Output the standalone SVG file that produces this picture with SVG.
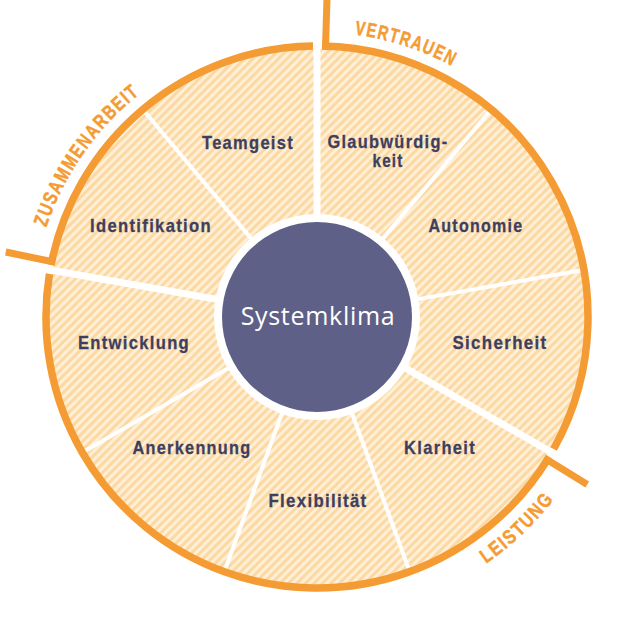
<svg xmlns="http://www.w3.org/2000/svg" width="634" height="634" viewBox="0 0 634 634">
<defs>
<pattern id="st" width="6" height="6" patternUnits="userSpaceOnUse" patternTransform="rotate(45)">
<rect width="6" height="6" fill="#fcd9a2"/>
<rect width="3" height="6" fill="#ffefd6"/>
</pattern>
<path id="pV" d="M219.52,49.19 A285,285 0 0 1 553.28,157.63"/>
<path id="pZ" d="M33.09,341.84 A285,285 0 0 1 243.24,41.71"/>
<path id="pL" d="M335.25,615.44 A299,299 0 0 0 614.08,350.85"/>
</defs>
<style>
.sec{fill:url(#st);stroke:none}
.lbl{font-family:"Liberation Sans",Arial,sans-serif;font-weight:bold;font-size:19px;letter-spacing:1.5px;fill:#3e3f5e;stroke:#3e3f5e;stroke-width:0.3px;text-anchor:middle}
.dv{stroke:#ffffff;stroke-width:4;fill:none}
.dvk{stroke:#ffffff;stroke-width:7;fill:none}
.ring{stroke:#f49b33;stroke-width:7.5;fill:none}
.tick{stroke:#f49b33;stroke-width:7;fill:none}
.cat{font-family:"Liberation Sans",Arial,sans-serif;font-weight:bold;font-size:20px;letter-spacing:2px;fill:#f49b33;stroke:#f49b33;stroke-width:0.5px;text-anchor:middle}
</style>
<rect width="634" height="634" fill="#ffffff"/>

<g id="teamgeist">
<path class="sec" d="M252.72,240.40 L144.73,111.71 A268,268 0 0 1 317,49 L317,217 A100,100 0 0 0 252.72,240.40 Z"/>
<text class="lbl" x="248" y="149" textLength="92" lengthAdjust="spacingAndGlyphs">Teamgeist</text>
</g>
<g id="glaubwuerdigkeit">
<path class="sec" d="M317,217 L317,49 A268,268 0 0 1 489.27,111.71 L381.28,240.40 A100,100 0 0 0 317,217 Z"/>
<text class="lbl" x="388" y="148" textLength="121" lengthAdjust="spacingAndGlyphs">Glaubwürdig-</text>
<text class="lbl" x="388" y="167" textLength="31" lengthAdjust="spacingAndGlyphs">keit</text>
</g>
<g id="autonomie">
<path class="sec" d="M381.28,240.40 L489.27,111.71 A268,268 0 0 1 580.93,270.46 L415.48,299.64 A100,100 0 0 0 381.28,240.40 Z"/>
<text class="lbl" x="476" y="232" textLength="95" lengthAdjust="spacingAndGlyphs">Autonomie</text>
</g>
<g id="sicherheit">
<path class="sec" d="M415.48,299.64 L580.93,270.46 A268,268 0 0 1 549.09,451 L403.60,367 A100,100 0 0 0 415.48,299.64 Z"/>
<text class="lbl" x="500" y="349" textLength="95" lengthAdjust="spacingAndGlyphs">Sicherheit</text>
</g>
<g id="klarheit">
<path class="sec" d="M403.60,367 L549.09,451 A268,268 0 0 1 408.66,568.84 L351.20,410.97 A100,100 0 0 0 403.60,367 Z"/>
<text class="lbl" x="440" y="454" textLength="72" lengthAdjust="spacingAndGlyphs">Klarheit</text>
</g>
<g id="flexibilitaet">
<path class="sec" d="M351.20,410.97 L408.66,568.84 A268,268 0 0 1 225.34,568.84 L282.80,410.97 A100,100 0 0 0 351.20,410.97 Z"/>
<text class="lbl" x="318" y="507" textLength="99" lengthAdjust="spacingAndGlyphs">Flexibilität</text>
</g>
<g id="anerkennung">
<path class="sec" d="M282.80,410.97 L225.34,568.84 A268,268 0 0 1 84.91,451 L230.40,367 A100,100 0 0 0 282.80,410.97 Z"/>
<text class="lbl" x="192" y="454" textLength="119" lengthAdjust="spacingAndGlyphs">Anerkennung</text>
</g>
<g id="entwicklung">
<path class="sec" d="M230.40,367 L84.91,451 A268,268 0 0 1 53.07,270.46 L218.52,299.64 A100,100 0 0 0 230.40,367 Z"/>
<text class="lbl" x="134" y="349" textLength="112" lengthAdjust="spacingAndGlyphs">Entwicklung</text>
</g>
<g id="identifikation">
<path class="sec" d="M218.52,299.64 L53.07,270.46 A268,268 0 0 1 144.73,111.71 L252.72,240.40 A100,100 0 0 0 218.52,299.64 Z"/>
<text class="lbl" x="151" y="232" textLength="122" lengthAdjust="spacingAndGlyphs">Identifikation</text>
</g>

<g id="connectors">
<line class="dvk" x1="317" y1="217" x2="317" y2="39"/>
<line class="dv" x1="381.28" y1="240.40" x2="489.91" y2="110.95"/>
<line class="dv" x1="415.48" y1="299.64" x2="581.91" y2="270.30"/>
<line class="dvk" x1="403.60" y1="367" x2="557.75" y2="456"/>
<line class="dv" x1="351.20" y1="410.97" x2="408.99" y2="569.78"/>
<line class="dv" x1="282.80" y1="410.97" x2="225.01" y2="569.78"/>
<line class="dv" x1="230.40" y1="367" x2="84.05" y2="451.50"/>
<line class="dvk" x1="218.52" y1="299.64" x2="43.23" y2="268.74"/>
<line class="dv" x1="252.72" y1="240.40" x2="144.09" y2="110.95"/>
</g>

<g id="zusammenarbeit">
<path class="ring" d="M51.07,264.83 A271,271 0 0 1 312.98,46.03"/>
<line class="tick" x1="55.15" y1="262.30" x2="5.72" y2="251.97"/>
<text class="cat"><textPath href="#pZ" startOffset="50%" textLength="166" lengthAdjust="spacingAndGlyphs">ZUSAMMENARBEIT</textPath></text>
</g>
<g id="vertrauen">
<path class="ring" d="M322.20,46.05 A271,271 0 0 1 553.68,449.00"/>
<line class="tick" x1="325.40" y1="49.63" x2="326.99" y2="-0.84"/>
<text class="cat"><textPath href="#pV" startOffset="50%" textLength="104" lengthAdjust="spacingAndGlyphs">VERTRAUEN</textPath></text>
</g>
<g id="leistung">
<path class="ring" d="M549.05,456.98 A271,271 0 0 1 49.45,273.91"/>
<line class="tick" x1="544.35" y1="457.96" x2="587.27" y2="484.57"/>
<text class="cat"><textPath href="#pL" startOffset="50%" textLength="95" lengthAdjust="spacingAndGlyphs">LEISTUNG</textPath></text>
</g>

<g id="systemklima">
<circle cx="317" cy="317" r="103" fill="#ffffff"/>
<circle cx="317" cy="317" r="95" fill="#5f6088"/>
<text x="318" y="325" text-anchor="middle" font-family="'Open Sans','Noto Sans',sans-serif" font-size="25" letter-spacing="0.7" fill="#ffffff">Systemklima</text>
</g>
</svg>
